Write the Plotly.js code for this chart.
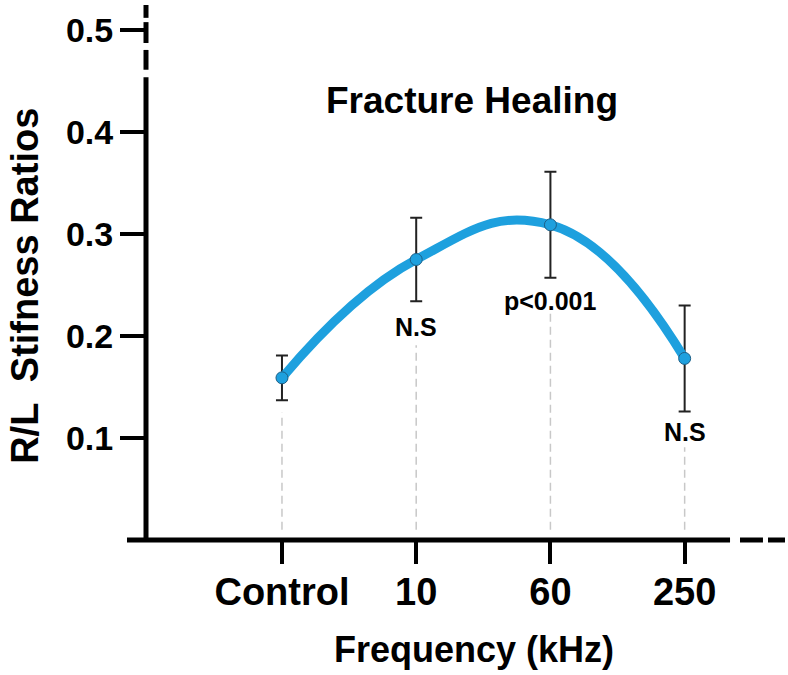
<!DOCTYPE html>
<html>
<head>
<meta charset="utf-8">
<script src="https://cdn.plot.ly/plotly-3.0.1.min.js"></script>
<style>
  html, body { margin: 0; padding: 0; background: #ffffff; }
  #grafico { width: 788px; height: 675px; }
</style>
</head>
<body>
<div id="grafico"></div>
<script>
// Dados: razão de rigidez R/L por frequência
const categories = ['Control', '10', '60', '250'];
const ratios = [0.159, 0.275, 0.309, 0.178];
const errors = [0.022, 0.041, 0.052, 0.052];
const signif = ['', 'N.S', 'p<0.001', 'N.S'];
const yTicks = [0.1, 0.2, 0.3, 0.4, 0.5];

const fonte = 'Liberation Sans, Arial, sans-serif';

const data = [
    {
        x: categories,
        y: ratios,
        type: 'scatter',
        mode: 'lines+markers',
        line: { shape: 'spline', smoothing: 1.3, color: '#1ea0de', width: 9 },
        marker: { size: 12, color: '#1ea0de', line: { color: '#1d5f86', width: 1 } },
        error_y: { type: 'data', array: errors, visible: true, color: '#222222', thickness: 2, width: 6 },
        hoverinfo: 'x+y'
    }
];

// linhas verticais tracejadas (cinza) de cada ponto até o eixo
const dropTops = [0.125, 0.191, 0.226, 0.091];
const shapes = categories.map((c, i) => ({
    type: 'line', xref: 'x', yref: 'y',
    x0: i, x1: i, y0: 0.01, y1: dropTops[i],
    line: { color: '#c8c8c8', width: 1.5, dash: '8px,5px' },
    layer: 'below'
}));

// eixo Y com quebra no topo
[[0, 0.865], [0.879, 0.916], [0.929, 0.968], [0.976, 1.0]].forEach(s => {
    shapes.push({
        type: 'line', xref: 'paper', yref: 'paper',
        x0: 0, x1: 0, y0: s[0], y1: s[1],
        line: { color: '#000000', width: 5 }
    });
});
// eixo X com quebra à direita
[[-0.0296, 0.9097], [0.9252, 0.961], [0.9688, 0.9953]].forEach(s => {
    shapes.push({
        type: 'line', xref: 'paper', yref: 'paper',
        x0: s[0], x1: s[1], y0: 0, y1: 0,
        line: { color: '#000000', width: 5 }
    });
});

const labelY = [0, 0.2086, 0.234, 0.1057];
const annotations = [];
signif.forEach((t, i) => {
    if (!t) return;
    annotations.push({
        x: i, y: labelY[i], xref: 'x', yref: 'y',
        text: t, showarrow: false, xanchor: 'center', yanchor: 'middle',
        font: { family: fonte, size: 25, weight: 'bold', color: '#000000' }
    });
});
annotations.push({
    x: -0.1885, y: 0.475, xref: 'paper', yref: 'paper',
    text: 'R/L  Stifness Ratios', textangle: -90, showarrow: false,
    xanchor: 'center', yanchor: 'middle',
    font: { family: fonte, size: 38, weight: 'bold', color: '#000000' }
});
annotations.push({
    x: 1.43, y: -0.205, xref: 'x', yref: 'paper',
    text: 'Frequency (kHz)', showarrow: false,
    xanchor: 'center', yanchor: 'middle',
    font: { family: fonte, size: 36, weight: 'bold', color: '#000000' }
});

const layout = {
    width: 788,
    height: 675,
    margin: { l: 146, r: 0, t: 5, b: 135 },
    showlegend: false,
    title: {
        text: 'Fracture Healing',
        x: 0.599, xref: 'container', xanchor: 'center',
        y: 0.852, yref: 'container', yanchor: 'middle',
        font: { family: fonte, size: 37, weight: 'bold', color: '#000000' }
    },
    xaxis: {
        type: 'category',
        range: [-1.013, 3.77],
        showline: false, showgrid: false, zeroline: false,
        ticks: 'outside', ticklen: 23, tickwidth: 4, tickcolor: '#000000',
        ticklabelstandoff: -5,
        tickfont: { family: fonte, size: 38, weight: 'bold', color: '#000000' },
        fixedrange: true
    },
    yaxis: {
        range: [0, 0.5245],
        tickvals: yTicks,
        ticktext: yTicks.map(v => v.toFixed(1)),
        showline: false, showgrid: false, zeroline: false,
        ticks: 'outside', ticklen: 25, tickwidth: 4, tickcolor: '#000000',
        tickfont: { family: fonte, size: 34, weight: 'bold', color: '#000000' },
        fixedrange: true
    },
    shapes: shapes,
    annotations: annotations,
    plot_bgcolor: '#ffffff',
    paper_bgcolor: '#ffffff'
};

Plotly.newPlot('grafico', data, layout, { displayModeBar: false, staticPlot: true });
</script>
</body>
</html>
